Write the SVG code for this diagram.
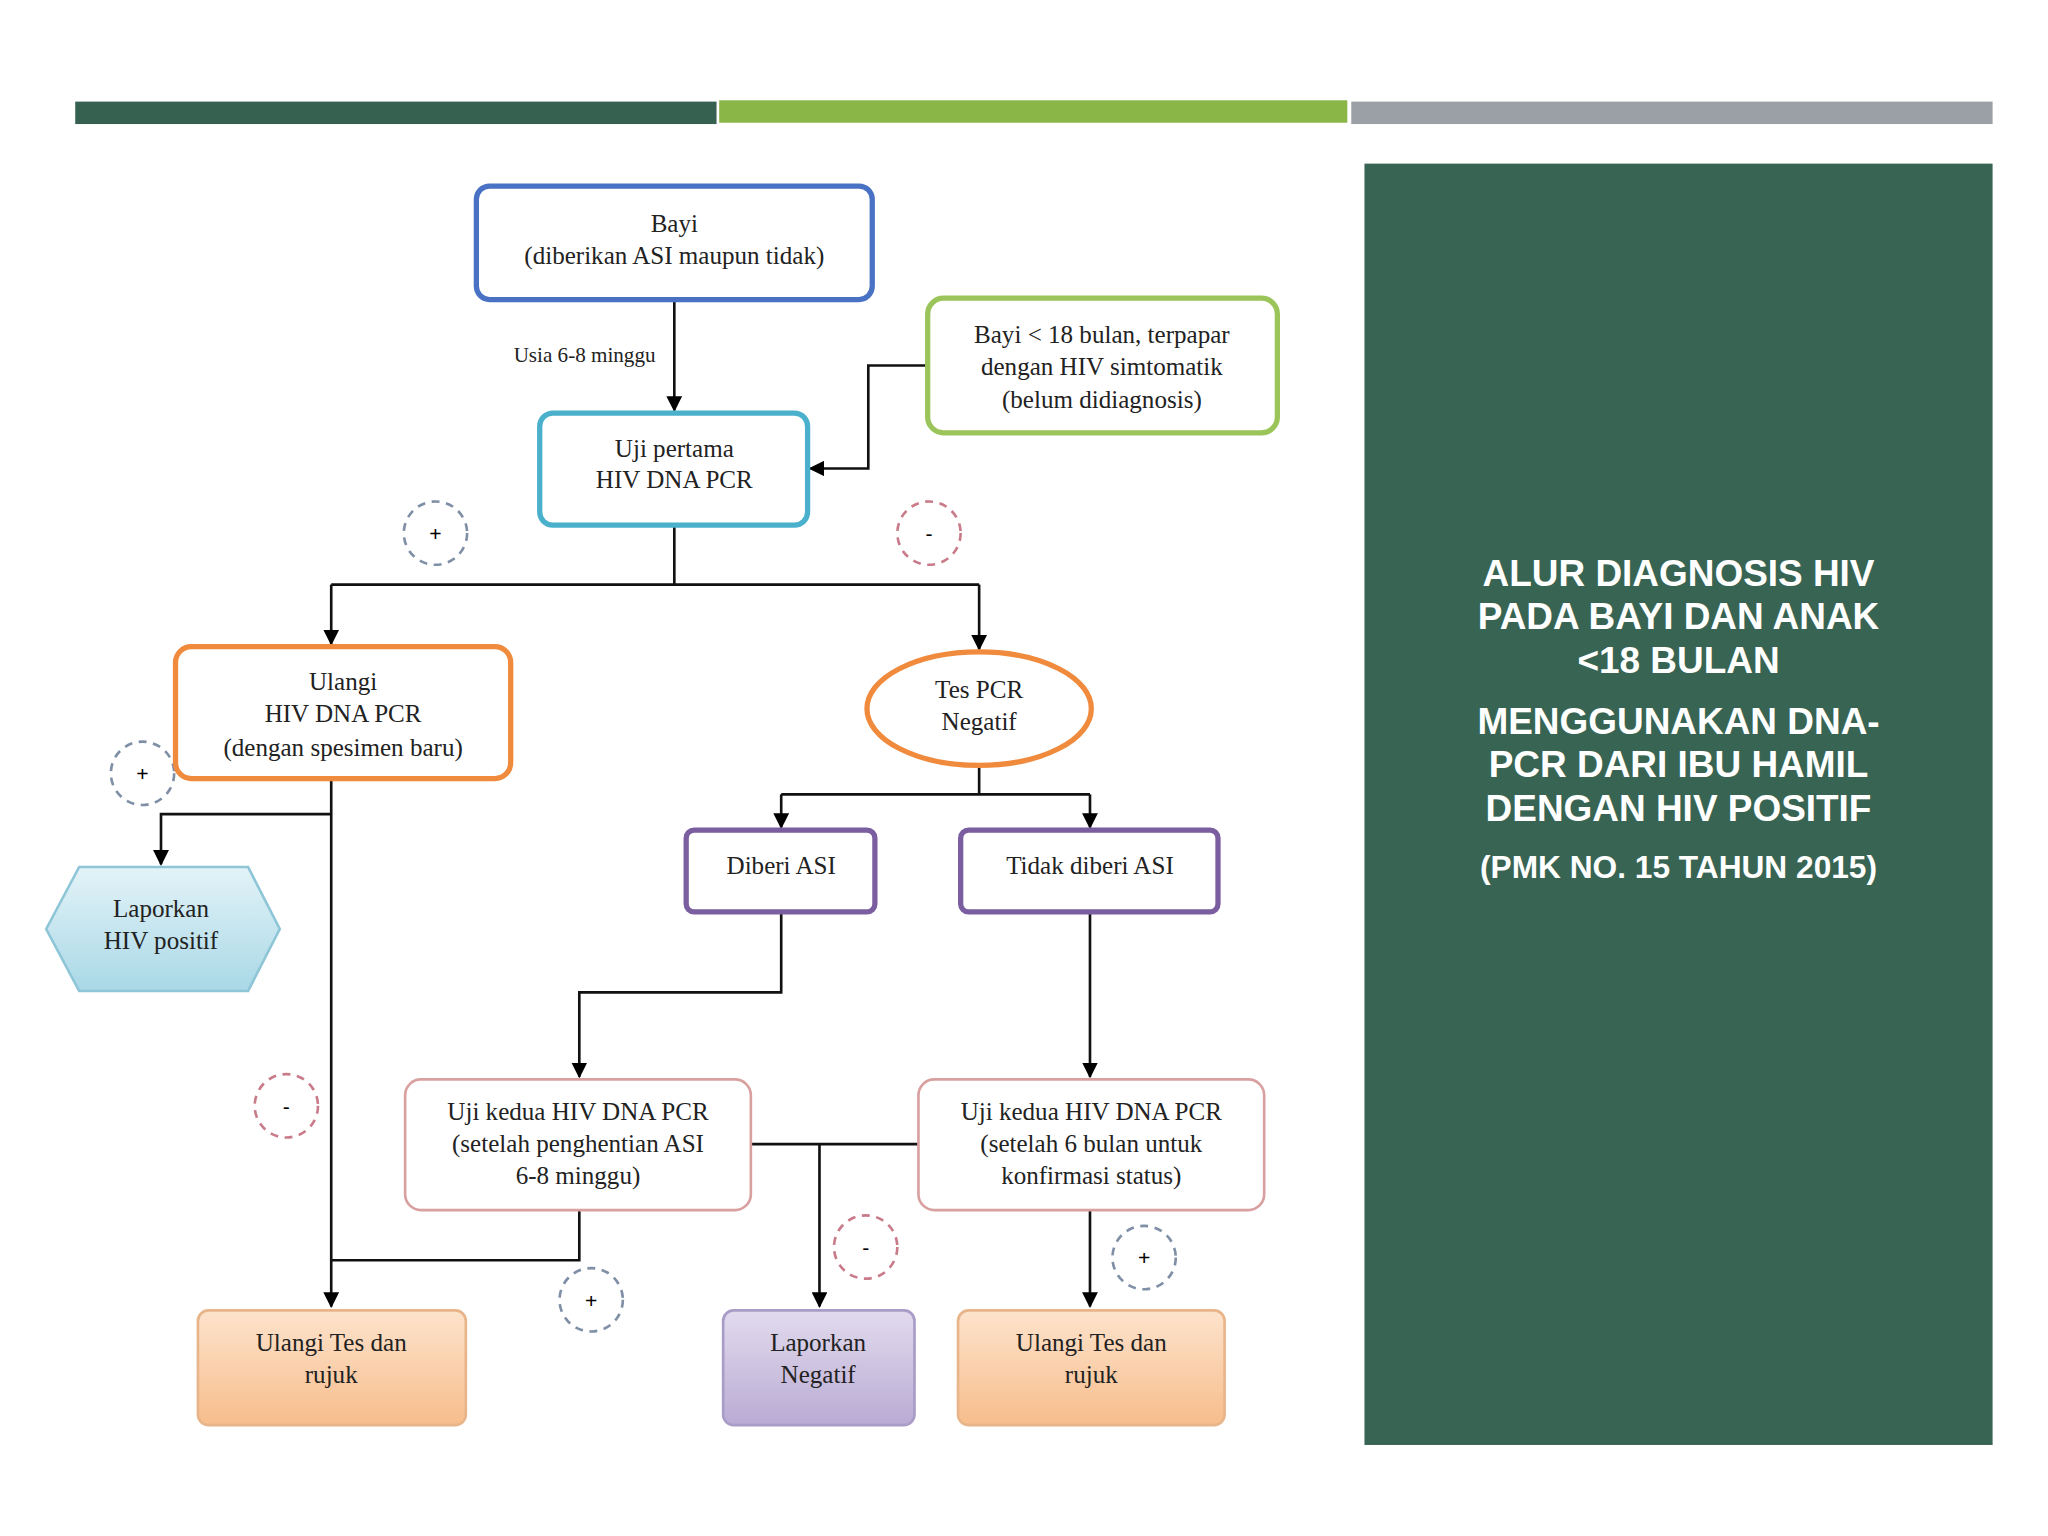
<svg xmlns="http://www.w3.org/2000/svg" width="2048" height="1536" viewBox="0 0 2048 1536">
<defs>
<marker id="ar" viewBox="0 0 10 10" refX="9" refY="5" markerWidth="6" markerHeight="6" orient="auto"><path d="M0,0 L10,5 L0,10 z" fill="#000"/></marker>
<linearGradient id="peach" x1="0" y1="0" x2="0" y2="1"><stop offset="0" stop-color="#fde3cc"/><stop offset="1" stop-color="#f7bd8c"/></linearGradient>
<linearGradient id="lav" x1="0" y1="0" x2="0" y2="1"><stop offset="0" stop-color="#e2dbee"/><stop offset="1" stop-color="#b9abd3"/></linearGradient>
<linearGradient id="cyan" x1="0" y1="0" x2="0" y2="1"><stop offset="0" stop-color="#e3f3f8"/><stop offset="1" stop-color="#a9d8e6"/></linearGradient>
<style>
.t{font-family:"Liberation Serif",serif;font-size:19px;fill:#222;text-anchor:middle}
.s{font-size:16px}
.w{font-family:"Liberation Sans",Arial,sans-serif;font-weight:bold;fill:#fff;text-anchor:middle;font-size:28px}
.c{fill:none;stroke:#111;stroke-width:2}
.ca{fill:none;stroke:#111;stroke-width:2;marker-end:url(#ar)}
.dc{fill:#fff;stroke-width:2;stroke-dasharray:6 5}
.box{fill:#fff;stroke-width:4}
</style>
</defs>
<rect width="2048" height="1536" fill="#fff"/>
<g transform="scale(1.3196)">
<rect x="57" y="77" width="486" height="17" fill="#36604f"/>
<rect x="545" y="76" width="476" height="17" fill="#8ab547"/>
<rect x="1024" y="77" width="486" height="17" fill="#9ba0a6"/>
<g id="panel"><rect x="1034" y="124" width="476" height="971" fill="#386453"/>
<text class="w" x="1272" y="444">ALUR DIAGNOSIS HIV</text>
<text class="w" x="1272" y="477">PADA BAYI DAN ANAK</text>
<text class="w" x="1272" y="510">&lt;18 BULAN</text>
<text class="w" x="1272" y="556">MENGGUNAKAN DNA-</text>
<text class="w" x="1272" y="589">PCR DARI IBU HAMIL</text>
<text class="w" x="1272" y="622">DENGAN HIV POSITIF</text>
<text class="w" x="1272" y="665" style="font-size:24px">(PMK NO. 15 TAHUN 2015)</text></g>
<g id="connectors">
<path class="ca" d="M511,227 V311"/>
<text class="t s" x="443" y="274">Usia 6-8 minggu</text>
<path class="ca" d="M703,277 H658 V355 H614"/>
<path class="c" d="M511,398 V443 M251,443 H742"/>
<path class="ca" d="M251,443 V488"/><path class="ca" d="M742,443 V492"/>
<path class="c" d="M742,580 V602 M592,602 H826"/>
<path class="ca" d="M592,602 V627"/><path class="ca" d="M826,602 V627"/>
<path class="ca" d="M251,590 V990"/>
<path class="ca" d="M251,617 H122 V655"/>
<path class="ca" d="M592,691 V752 H439 V816"/>
<path class="ca" d="M826,691 V816"/>
<path class="c" d="M439,917 V955 H251"/>
<path class="c" d="M569,867 H696"/>
<path class="ca" d="M621,867 V990"/>
<path class="ca" d="M826,917 V990"/>
</g>
<g id="signs" font-family="Liberation Sans,sans-serif" font-size="16" text-anchor="middle">
<circle class="dc" cx="330" cy="404" r="24" stroke="#7f8fa6"/><text x="330" y="410">+</text>
<circle class="dc" cx="704" cy="404" r="24" stroke="#c97b8a"/><text x="704" y="410">-</text>
<circle class="dc" cx="108" cy="586" r="24" stroke="#7f8fa6"/><text x="108" y="592">+</text>
<circle class="dc" cx="217" cy="838" r="24" stroke="#c97b8a"/><text x="217" y="844">-</text>
<circle class="dc" cx="656" cy="945" r="24" stroke="#c97b8a"/><text x="656" y="951">-</text>
<circle class="dc" cx="448" cy="985" r="24" stroke="#7f8fa6"/><text x="448" y="991">+</text>
<circle class="dc" cx="867" cy="953" r="24" stroke="#7f8fa6"/><text x="867" y="959">+</text>
</g>
<g id="bayi"><rect class="box" x="361" y="141" width="300" height="86" rx="10" stroke="#4a72c4"/>
<text class="t" x="511" y="176">Bayi</text><text class="t" x="511" y="200">(diberikan ASI maupun tidak)</text></g>
<g id="terpapar"><rect class="box" x="703" y="226" width="265" height="102" rx="12" stroke="#9bc55a"/>
<text class="t" x="835" y="260">Bayi &lt; 18 bulan, terpapar</text><text class="t" x="835" y="284">dengan HIV simtomatik</text><text class="t" x="835" y="309">(belum didiagnosis)</text></g>
<g id="uji1"><rect class="box" x="409" y="313" width="203" height="85" rx="10" stroke="#4bb0cc"/>
<text class="t" x="511" y="346">Uji pertama</text><text class="t" x="511" y="370">HIV DNA PCR</text></g>
<g id="ulangi"><rect class="box" x="133" y="490" width="254" height="100" rx="12" stroke="#f08a3c"/>
<text class="t" x="260" y="523">Ulangi</text><text class="t" x="260" y="547">HIV DNA PCR</text><text class="t" x="260" y="573">(dengan spesimen baru)</text></g>
<g id="tesneg"><ellipse class="box" cx="742" cy="537" rx="85" ry="43" stroke="#f08a3c"/>
<text class="t" x="742" y="529">Tes PCR</text><text class="t" x="742" y="553">Negatif</text></g>
<g id="diberi"><rect class="box" x="520" y="629" width="143" height="62" rx="6" stroke="#7a5ea0"/><text class="t" x="592" y="662">Diberi ASI</text></g>
<g id="tidak"><rect class="box" x="728" y="629" width="195" height="62" rx="6" stroke="#7a5ea0"/><text class="t" x="826" y="662">Tidak diberi ASI</text></g>
<g id="lappos"><polygon points="35,704 60,657 188,657 212,704 188,751 60,751" fill="url(#cyan)" stroke="#8ec6d8" stroke-width="2"/>
<text class="t" x="122" y="695">Laporkan</text><text class="t" x="122" y="719">HIV positif</text></g>
<g id="uji2a"><rect x="307" y="818" width="262" height="99" rx="12" fill="#fff" stroke="#d9a0a0" stroke-width="2"/>
<text class="t" x="438" y="849">Uji kedua HIV DNA PCR</text><text class="t" x="438" y="873">(setelah penghentian ASI</text><text class="t" x="438" y="897">6-8 minggu)</text></g>
<g id="uji2b"><rect x="696" y="818" width="262" height="99" rx="12" fill="#fff" stroke="#d9a0a0" stroke-width="2"/>
<text class="t" x="827" y="849">Uji kedua HIV DNA PCR</text><text class="t" x="827" y="873">(setelah 6 bulan untuk</text><text class="t" x="827" y="897">konfirmasi status)</text></g>
<g id="rujuk1"><rect x="150" y="993" width="203" height="87" rx="8" fill="url(#peach)" stroke="#e8b58a" stroke-width="2"/>
<text class="t" x="251" y="1024">Ulangi Tes dan</text><text class="t" x="251" y="1048">rujuk</text></g>
<g id="lapneg"><rect x="548" y="993" width="145" height="87" rx="8" fill="url(#lav)" stroke="#a99cc6" stroke-width="2"/>
<text class="t" x="620" y="1024">Laporkan</text><text class="t" x="620" y="1048">Negatif</text></g>
<g id="rujuk2"><rect x="726" y="993" width="202" height="87" rx="8" fill="url(#peach)" stroke="#e8b58a" stroke-width="2"/>
<text class="t" x="827" y="1024">Ulangi Tes dan</text><text class="t" x="827" y="1048">rujuk</text></g>
</g>
</svg>
